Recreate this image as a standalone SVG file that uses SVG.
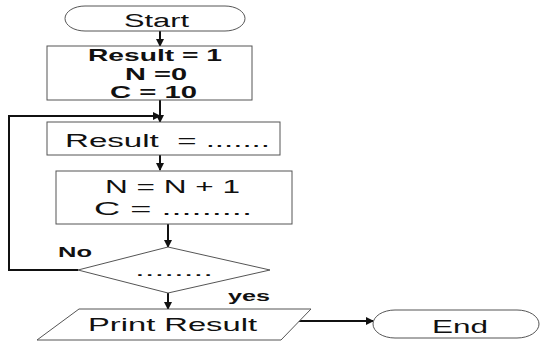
<svg xmlns="http://www.w3.org/2000/svg" width="541" height="343" viewBox="0 0 541 343">
<defs>
<marker id="ah" markerWidth="8" markerHeight="8" refX="7" refY="4" orient="auto" markerUnits="userSpaceOnUse">
<path d="M0,0 L8,4 L0,8 Z" fill="#111"/>
</marker>
<style>
.shape{fill:#fff;stroke:#555;stroke-width:1}
.conn{fill:none;stroke:#111;stroke-width:2}
.t{font-family:"Liberation Sans",Arial,sans-serif;fill:#111}
.b{font-weight:bold}
</style>
</defs>
<rect width="541" height="343" fill="#fff"/>
<g id="connectors">
<path class="conn" d="M160,31 V46" marker-end="url(#ah)"/>
<path class="conn" d="M160,100 V122" marker-end="url(#ah)"/>
<path class="conn" d="M78,270 H9 V116 H160" marker-end="url(#ah)"/>
<path class="conn" d="M160,155 V170" marker-end="url(#ah)"/>
<path class="conn" d="M168,224 V247" marker-end="url(#ah)"/>
<path class="conn" d="M168,293 V309" marker-end="url(#ah)"/>
<path class="conn" d="M296,321 H373" stroke-width="1.3" marker-end="url(#ah)"/>
</g>
<g id="start">
<rect class="shape" x="65" y="6" width="180" height="25" rx="20" ry="12.5"/>
<text class="t" x="124" y="26.5" font-size="18" textLength="65" lengthAdjust="spacingAndGlyphs">Start</text>
</g>
<g id="init">
<rect class="shape" x="47" y="46" width="205" height="54"/>
<text class="t b" x="88" y="61" font-size="17" textLength="134" lengthAdjust="spacingAndGlyphs">Result = 1</text>
<text class="t b" x="125" y="80" font-size="17" textLength="62" lengthAdjust="spacingAndGlyphs">N =0</text>
<text class="t b" x="110" y="98" font-size="17" textLength="87" lengthAdjust="spacingAndGlyphs">C = 10</text>
</g>
<g id="result">
<rect class="shape" x="47" y="122" width="233" height="33"/>
<text class="t" x="65" y="147" font-size="18" textLength="205" lengthAdjust="spacingAndGlyphs" xml:space="preserve">Result  = .......</text>
</g>
<g id="update">
<rect class="shape" x="56" y="171" width="236" height="53"/>
<text class="t" x="105" y="193" font-size="18" textLength="135" lengthAdjust="spacingAndGlyphs">N = N + 1</text>
<text class="t" x="94" y="215" font-size="18" textLength="158" lengthAdjust="spacingAndGlyphs">C = .........</text>
</g>
<g id="decision">
<polygon class="shape" points="168,247 270,270 168,293 78,270"/>
<text class="t" x="135" y="276" font-size="16" textLength="78" lengthAdjust="spacingAndGlyphs">........</text>
</g>
<text class="t b" x="58" y="257" font-size="14" textLength="34" lengthAdjust="spacingAndGlyphs">No</text>
<text class="t b" x="228" y="301" font-size="15" textLength="42" lengthAdjust="spacingAndGlyphs">yes</text>
<g id="print">
<polygon class="shape" points="79,309 311,309 281,340 37,340"/>
<text class="t" x="88" y="331" font-size="19" textLength="169" lengthAdjust="spacingAndGlyphs">Print Result</text>
</g>
<g id="end">
<rect class="shape" x="373" y="310" width="166" height="28" rx="22" ry="14"/>
<text class="t" x="432" y="333" font-size="19" textLength="56" lengthAdjust="spacingAndGlyphs">End</text>
</g>
</svg>
